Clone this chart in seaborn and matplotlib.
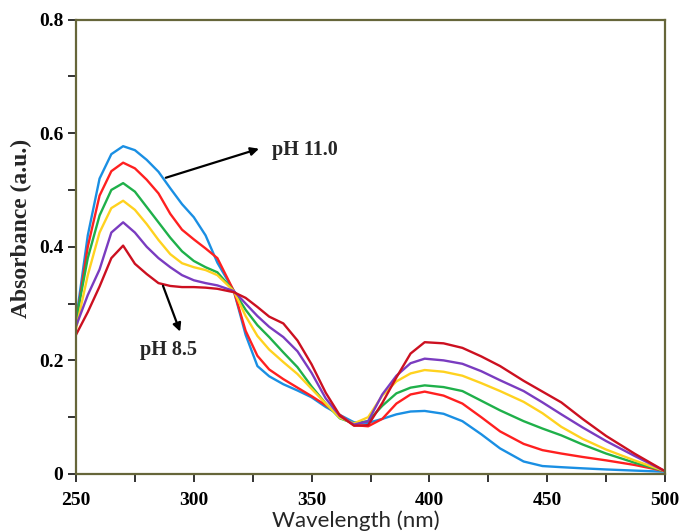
import numpy as np
import pandas as pd
import seaborn as sns
import matplotlib
matplotlib.use("Agg")
import matplotlib.pyplot as plt
from matplotlib.ticker import MultipleLocator, FixedLocator

# ---------------- data ----------------
wavelength = [250, 255, 260, 265, 270, 275, 280, 285, 290, 295, 300, 305, 310, 317,
              322, 327, 332, 338, 344, 350, 356, 362, 368, 374, 380, 386, 392, 398,
              406, 414, 422, 430, 440, 448, 456, 465, 475, 487, 500]

abs_ph110 = [0.270, 0.420, 0.520, 0.563, 0.577, 0.570, 0.553, 0.532, 0.503, 0.475, 0.452, 0.420, 0.372, 0.322,
             0.245, 0.190, 0.172, 0.158, 0.147, 0.135, 0.118, 0.104, 0.091, 0.090, 0.097, 0.105, 0.110, 0.111,
             0.106, 0.093, 0.070, 0.045, 0.022, 0.014, 0.012, 0.010, 0.008, 0.006, 0.004]
abs_ph2 = [0.265, 0.400, 0.490, 0.533, 0.548, 0.538, 0.518, 0.494, 0.458, 0.430, 0.413, 0.397, 0.380, 0.322,
           0.252, 0.208, 0.184, 0.167, 0.152, 0.137, 0.121, 0.104, 0.086, 0.084, 0.097, 0.124, 0.140, 0.145,
           0.138, 0.124, 0.100, 0.075, 0.053, 0.042, 0.036, 0.030, 0.024, 0.016, 0.005]
abs_ph3 = [0.270, 0.380, 0.455, 0.500, 0.512, 0.497, 0.470, 0.443, 0.416, 0.392, 0.375, 0.364, 0.355, 0.322,
           0.289, 0.262, 0.241, 0.214, 0.188, 0.154, 0.124, 0.098, 0.089, 0.093, 0.120, 0.142, 0.152, 0.156,
           0.153, 0.146, 0.129, 0.112, 0.093, 0.080, 0.068, 0.052, 0.036, 0.020, 0.005]
abs_ph4 = [0.255, 0.350, 0.425, 0.468, 0.481, 0.465, 0.440, 0.412, 0.387, 0.371, 0.364, 0.359, 0.350, 0.322,
           0.278, 0.243, 0.219, 0.197, 0.176, 0.150, 0.124, 0.099, 0.089, 0.100, 0.138, 0.163, 0.177, 0.183,
           0.180, 0.173, 0.160, 0.146, 0.127, 0.107, 0.083, 0.062, 0.043, 0.024, 0.005]
abs_ph5 = [0.260, 0.315, 0.360, 0.425, 0.443, 0.425, 0.400, 0.380, 0.364, 0.350, 0.341, 0.336, 0.332, 0.322,
           0.300, 0.278, 0.259, 0.241, 0.216, 0.178, 0.133, 0.102, 0.087, 0.093, 0.140, 0.173, 0.195, 0.203,
           0.200, 0.194, 0.181, 0.165, 0.146, 0.126, 0.105, 0.082, 0.058, 0.032, 0.005]
abs_ph85 = [0.245, 0.285, 0.330, 0.380, 0.402, 0.370, 0.352, 0.336, 0.331, 0.329, 0.329, 0.328, 0.326, 0.320,
            0.310, 0.294, 0.277, 0.265, 0.235, 0.193, 0.143, 0.103, 0.085, 0.086, 0.125, 0.170, 0.212, 0.232,
            0.230, 0.222, 0.207, 0.190, 0.164, 0.145, 0.126, 0.097, 0.067, 0.036, 0.005]

series_names = ["pH 11.0", "s2", "s3", "s4", "s5", "pH 8.5"]
series_values = [abs_ph110, abs_ph2, abs_ph3, abs_ph4, abs_ph5, abs_ph85]
series_colors = ["#1a8fe3", "#ff2020", "#1fb04a", "#ffd21f", "#7a3cc0", "#cc1020"]

x_ticks = [250, 300, 350, 400, 450, 500]
x_ticklabels = ["250", "300", "350", "400", "450", "500"]
y_ticks = [0, 0.2, 0.4, 0.6, 0.8]
y_ticklabels = ["0", "0.2", "0.4", "0.6", "0.8"]

# ---------------- build table ----------------
frames = []
for name, vals in zip(series_names, series_values):
    frames.append(pd.DataFrame({"Wavelength": wavelength, "Absorbance": vals, "series": name}))
df = pd.concat(frames, ignore_index=True)

sns.set_style("ticks")
plt.rcParams["font.family"] = ["Liberation Serif", "DejaVu Serif"]
plt.rcParams["font.weight"] = "bold"

fig = plt.figure(figsize=(6.83, 5.32), dpi=100)
ax = fig.add_axes([76 / 683, 58 / 532, 589 / 683, 454.5 / 532])

sns.lineplot(data=df, x="Wavelength", y="Absorbance", hue="series",
             hue_order=series_names, palette=series_colors, estimator=None,
             sort=True, linewidth=1.7, legend=False, ax=ax)

ax.set_xlim(250, 500)
ax.set_ylim(0, 0.8)

spine_col = "#66663a"
for s in ax.spines.values():
    s.set_color(spine_col)
    s.set_linewidth(1.6)
    s.set_visible(True)

ax.xaxis.set_major_locator(FixedLocator(x_ticks))
ax.set_xticklabels(x_ticklabels)
ax.xaxis.set_minor_locator(MultipleLocator(25))
ax.yaxis.set_major_locator(FixedLocator(y_ticks))
ax.set_yticklabels(y_ticklabels)
ax.yaxis.set_minor_locator(MultipleLocator(0.1))

ax.tick_params(axis="both", which="both", direction="out", length=6, width=1.4,
               color="#333333", labelsize=14, labelcolor="black")
ax.tick_params(axis="x", which="both", top=False, pad=7)
ax.tick_params(axis="y", which="both", right=False, pad=3)
for lab in ax.get_xticklabels() + ax.get_yticklabels():
    lab.set_fontweight("bold")

ax.set_ylabel("Absorbance (a.u.)", fontsize=17, fontweight="bold")
ax.yaxis.set_label_coords(-0.074, 0.54)
ax.set_xlabel("Wavelength (nm)", fontsize=16, fontweight="normal",
              family=["Lato", "DejaVu Sans"])
ax.xaxis.set_label_coords(0.475, -0.080)

arrow_kw = dict(arrowstyle="-|>", color="black", lw=1.6, mutation_scale=12)
ax.annotate("", xy=(328.8, 0.574), xytext=(287.0, 0.520), arrowprops=arrow_kw)
ax.text(333.0, 0.570, "pH 11.0", fontsize=14.5, fontweight="bold", va="center", ha="left")
ax.annotate("", xy=(294.6, 0.246), xytext=(286.5, 0.336), arrowprops=arrow_kw)
ax.text(277.0, 0.218, "pH 8.5", fontsize=14.5, fontweight="bold", va="center", ha="left")

fig.savefig("out.png", dpi=100, facecolor="white")
